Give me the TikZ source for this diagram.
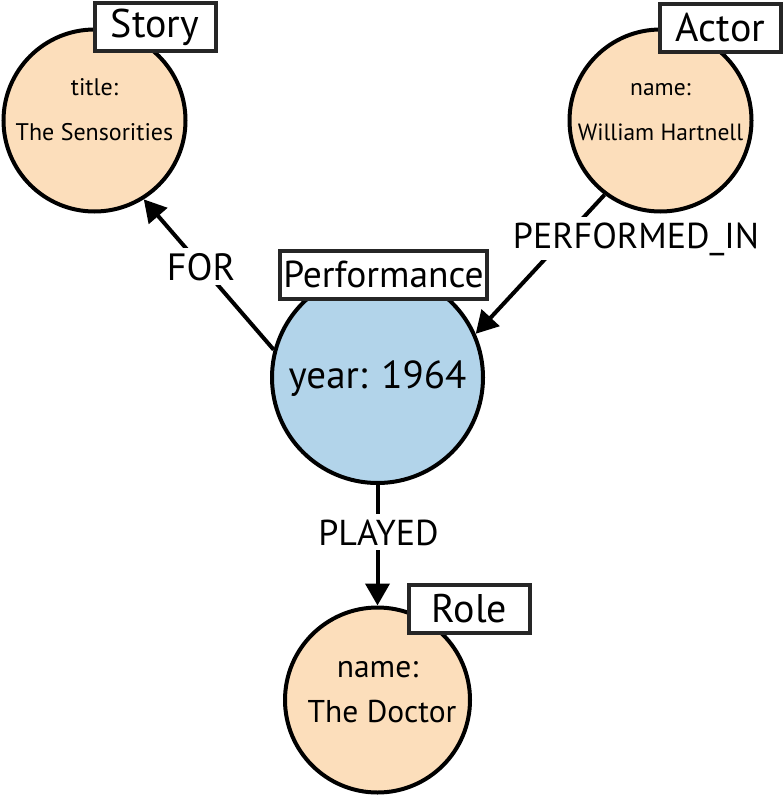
\documentclass[tikz,border=0pt]{standalone}
\usepackage{fontspec}
\setmainfont{PT Sans}
\usetikzlibrary{arrows.meta}
\definecolor{peach}{HTML}{FCDEBB}
\definecolor{lblue}{HTML}{B2D4EA}
\begin{document}
\begin{tikzpicture}[x=1pt,y=-1pt,
  ent/.style={circle,draw=black,line width=4pt,inner sep=0pt},
  tag/.style={draw=black!85,line width=4pt,fill=white,inner sep=0pt,minimum height=48pt,font=\fontsize{40}{40}\selectfont},
  rel/.style={line width=4pt,-{Triangle[length=22pt,width=24pt]}},
  rlab/.style={fill=white,inner sep=5pt,anchor=base,font=\fontsize{36}{36}\selectfont},
  prop/.style={anchor=base,inner sep=0pt}
]
\useasboundingbox (0,0) rectangle (784,795);
% entities
\node[ent,fill=peach,minimum size=182pt] (story) at (94.5,120.5) {};
\node[ent,fill=peach,minimum size=182pt] (actor) at (660.5,120.5) {};
\node[ent,fill=lblue,minimum size=211pt] (perf) at (377.5,377.5) {};
\node[ent,fill=peach,minimum size=185pt] (role) at (377.5,700) {};
% properties
\node[prop,font=\fontsize{24}{24}\selectfont] (storyk) at (94.5,95) {title:};
\node[prop,font=\fontsize{24}{24}\selectfont] (storyv) at (94.5,140) {The Sensorities};
\node[prop,font=\fontsize{23.5}{23.5}\selectfont] (actork) at (660.5,95) {name:};
\node[prop,font=\fontsize{23.5}{23.5}\selectfont] (actorv) at (660.5,140) {William Hartnell};
\node[prop,font=\fontsize{39}{39}\selectfont] (perfv) at (377.5,388) {year: 1964};
\node[prop,font=\fontsize{31.5}{31.5}\selectfont] (rolek) at (377.5,677) {name:};
\node[prop,font=\fontsize{31.5}{31.5}\selectfont] (rolev) at (382,722) {The Doctor};
% relationships
\draw[rel] (perf.165) -- (story.-58);
\draw[rel] (actor.-127) -- (perf.24);
\draw[rel] (perf.south) -- (role.north);
\node[rlab,font=\fontsize{38}{38}\selectfont] (lfor) at (201,280) {FOR};
\node[rlab] (lpi) at (636,248) {PERFORMED\_IN};
\node[rlab] (lpl) at (378.5,545) {PLAYED};
% labels
\node[tag,minimum width=121pt] (tstory) at (155,27) {Story};
\node[tag,minimum width=121pt] (tactor) at (720.5,28) {Actor};
\node[tag,minimum width=207pt,font=\fontsize{37.5}{37.5}\selectfont] (tperf) at (383.5,274.5) {Performance};
\node[tag,minimum width=121pt] (trole) at (469.5,609) {Role};
\end{tikzpicture}
\end{document}
